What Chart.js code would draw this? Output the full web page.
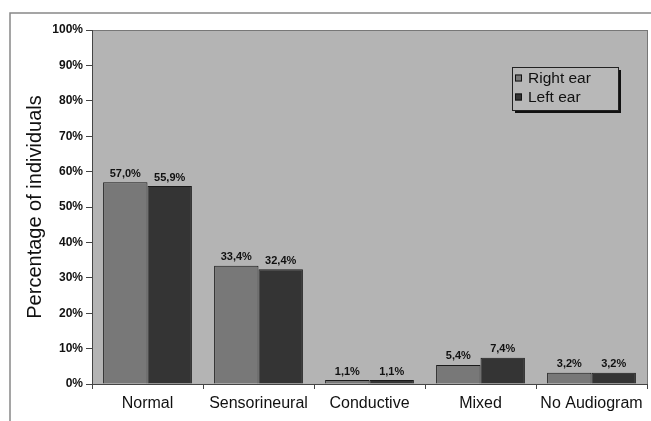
<!DOCTYPE html>
<html>
<head>
<meta charset="utf-8">
<script src="https://cdn.jsdelivr.net/npm/chart.js@4.4.1/dist/chart.umd.min.js"></script>
<style>
  html, body { margin: 0; padding: 0; background: #fff; }
  #wrap { position: relative; width: 651px; height: 421px; }
</style>
</head>
<body>
<div id="wrap"><canvas id="chart" width="651" height="421"></canvas></div>
<script>
const categories = ['Normal', 'Sensorineural', 'Conductive', 'Mixed', 'No Audiogram'];
const rightEar = [57.0, 33.4, 1.1, 5.4, 3.2];
const leftEar = [55.9, 32.4, 1.1, 7.4, 3.2];
const seriesNames = ['Right ear', 'Left ear'];
const seriesColors = ['#787878', '#343434'];

const FONT = 'Arial, "Liberation Sans", sans-serif';

// grey plot background + outer frame lines
const backdrop = {
    id: 'backdrop',
    beforeDraw(chart) {
        const { ctx, chartArea: a } = chart;
        ctx.save();
        ctx.fillStyle = '#b4b4b4';
        ctx.fillRect(a.left, a.top, a.right - a.left, a.bottom - a.top);
        ctx.strokeStyle = '#777';
        ctx.lineWidth = 1;
        ctx.strokeRect(a.left + 0.5, a.top + 0.5, a.right - a.left, a.bottom - a.top);
        ctx.strokeStyle = '#888';
        ctx.lineWidth = 1.5;
        ctx.beginPath();
        ctx.moveTo(651, 13);
        ctx.lineTo(10, 13);
        ctx.lineTo(10, 421);
        ctx.stroke();
        ctx.restore();
    }
};

// value labels above the bars
const valueLabels = {
    id: 'valueLabels',
    afterDatasetsDraw(chart) {
        const { ctx } = chart;
        ctx.save();
        ctx.font = 'bold 11px ' + FONT;
        ctx.fillStyle = '#111';
        ctx.textAlign = 'center';
        ctx.textBaseline = 'bottom';
        chart.data.datasets.forEach((ds, i) => {
            chart.getDatasetMeta(i).data.forEach((bar, j) => {
                const txt = ds.data[j].toFixed(1).replace('.', ',') + '%';
                ctx.fillText(txt, bar.x, bar.y - 3);
            });
        });
        ctx.restore();
    }
};

// boxed legend inside the plot, with drop shadow
const boxLegend = {
    id: 'boxLegend',
    afterDraw(chart) {
        const { ctx } = chart;
        const x = 512, y = 67, w = 106, h = 43;
        ctx.save();
        ctx.fillStyle = '#111';
        ctx.fillRect(x + 3, y + 3, w, h);
        ctx.fillStyle = '#b8b8b8';
        ctx.fillRect(x, y, w, h);
        ctx.strokeStyle = '#222';
        ctx.lineWidth = 1;
        ctx.strokeRect(x + 0.5, y + 0.5, w, h);
        ctx.font = '15.5px ' + FONT;
        ctx.textBaseline = 'middle';
        chart.data.datasets.forEach((ds, i) => {
            const cy = y + 11 + i * 19;
            ctx.fillStyle = ds.backgroundColor;
            ctx.fillRect(x + 3, cy - 3.5, 7, 7);
            ctx.strokeStyle = '#111';
            ctx.strokeRect(x + 3.5, cy - 3, 6, 6);
            ctx.fillStyle = '#111';
            ctx.fillText(ds.label, x + 16, cy + 1);
        });
        ctx.restore();
    }
};

new Chart(document.getElementById('chart'), {
    type: 'bar',
    data: {
        labels: categories,
        datasets: [
            { label: seriesNames[0], data: rightEar, backgroundColor: seriesColors[0] },
            { label: seriesNames[1], data: leftEar, backgroundColor: seriesColors[1] }
        ]
    },
    options: {
        responsive: false,
        animation: false,
        devicePixelRatio: 1,
        layout: { padding: { top: 30, right: 4, left: 0, bottom: 0 } },
        datasets: {
            bar: {
                categoryPercentage: 0.8,
                barPercentage: 1,
                borderColor: '#1a1a1a',
                borderWidth: 1
            }
        },
        scales: {
            x: {
                afterFit: s => { s.height = 37; },
                grid: { offset: true, drawOnChartArea: false, tickLength: 5, color: '#444' },
                border: { color: '#444' },
                ticks: { color: '#111', padding: 5, font: { family: FONT, size: 16 } }
            },
            y: {
                min: 0,
                max: 100,
                afterFit: s => { s.width = 92; },
                grid: { drawOnChartArea: false, tickLength: 6, color: '#444' },
                border: { color: '#444' },
                ticks: {
                    stepSize: 10,
                    color: '#111',
                    padding: 3,
                    font: { family: FONT, size: 12, weight: 'bold' },
                    callback: v => v + '%'
                },
                title: {
                    display: true,
                    text: 'Percentage of individuals',
                    color: '#111',
                    font: { family: FONT, size: 20 },
                    padding: { top: 23, bottom: 0 }
                }
            }
        },
        plugins: {
            legend: { display: false },
            tooltip: { enabled: false }
        }
    },
    plugins: [backdrop, valueLabels, boxLegend]
});
</script>
</body>
</html>
